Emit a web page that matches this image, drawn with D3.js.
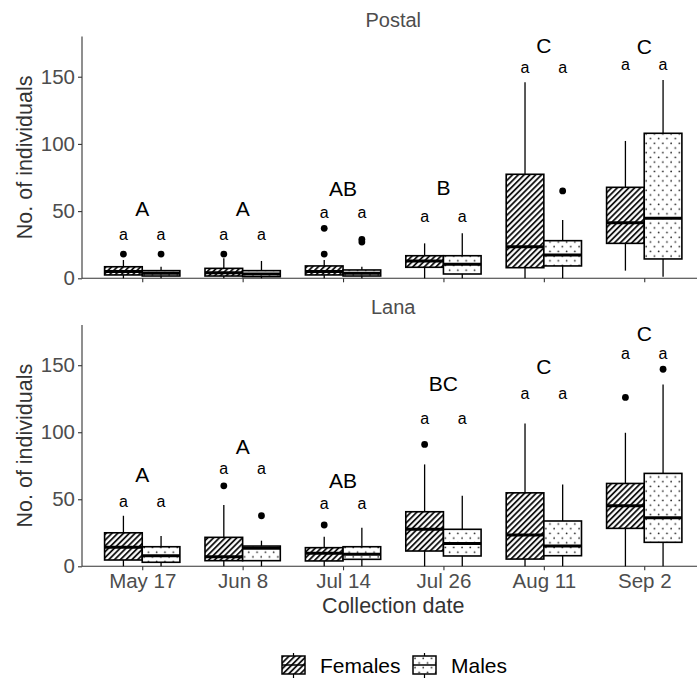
<!DOCTYPE html>
<html>
<head>
<meta charset="utf-8">
<script src="https://cdn.jsdelivr.net/npm/d3@7"></script>
<style>
  body{margin:0;background:#fff;}
  svg{display:block;font-family:"Liberation Sans",Arial,sans-serif;}
</style>
</head>
<body>
<svg id="chart" width="697" height="681"></svg>
<script>
// collection dates (x categories)
const dates=["May 17","Jun 8","Jul 14","Jul 26","Aug 11","Sep 2"];
const sites=["Postal","Lana"];
const sexes=["Females","Males"];

// five-number summaries per date: [lower whisker, q1, median, q3, upper whisker]
const postalFemales=[[0,2.5,5,8.6,13.6],[0,1.7,4.2,7.4,15],[0,2.5,5,9.2,13.6],[0,8.2,12.9,16.8,26],[0,7.9,23.5,77.4,145.8],[5.7,26,41.4,67.7,102.2]];
const postalMales=[[0,1.7,3.7,5.7,8.6],[0,1.2,3.2,5.7,12.9],[0,1.7,3.7,6.2,8.6],[0,3.2,10.4,16.8,33.5],[0,9.2,17.3,28,43.4],[1.2,14.4,44.6,107.9,147.5]];
const lanaFemales=[[0,4.7,14.2,25,37.7],[0,4.2,7.2,21.6,45.7],[0,4,9.7,13.9,22],[0,11.4,27.6,40.7,76],[0,5.4,23.3,54.8,106.5],[0,28.3,45.2,61.8,99.6]];
const lanaMales=[[0,3,7.9,14.6,22.6],[0,4.2,13.4,15.1,19.1],[0,5.2,8.9,14.6,28.8],[0,7.7,17.1,27.6,52.6],[0,7.9,15.1,33.8,61],[0,17.9,36.2,69.3,135.6]];

// outliers per date
const postalFemaleOutliers=[[18],[18],[18,37.2],[],[],[]];
const postalMaleOutliers=[[18],[],[27,29],[],[65],[]];
const lanaFemaleOutliers=[[],[60],[30.8],[90.9],[],[126]];
const lanaMaleOutliers=[[],[37.7],[],[],[],[147]];

// significance letters: between dates (capitals) and between sexes (lower case)
const postalDateLetters=["A","A","AB","B","C","C"];
const postalDateLetterY=[52.3,52.3,67,67.4,173.6,172.3];
const postalSexLetterY=[32.2,32.2,48.4,45.8,156.3,158.7];
const lanaDateLetters=["A","A","AB","BC","C","C"];
const lanaDateLetterY=[68.6,89.1,64.3,136.4,149.3,173.6];
const lanaSexLetterY=[48.1,72.5,46.4,109.8,128.9,158];

const yTicks=[0,50,100,150];

const panels=[
  {site:"Postal",top:36.4,bottom:278.3,stats:[postalFemales,postalMales],out:[postalFemaleOutliers,postalMaleOutliers],
   letters:postalDateLetters,letterY:postalDateLetterY,sexY:postalSexLetterY,stripY:20},
  {site:"Lana",top:325,bottom:566.3,stats:[lanaFemales,lanaMales],out:[lanaFemaleOutliers,lanaMaleOutliers],
   letters:lanaDateLetters,letterY:lanaDateLetterY,sexY:lanaSexLetterY,stripY:307}
];

const svg=d3.select("#chart");
const left=82, unit=100.4;
const x=d3.scalePoint().domain(dates).range([left+0.6*unit,left+5.6*unit]);
const xSex=d3.scaleBand().domain(sexes).range([-0.375*unit,0.375*unit]);
const bw=xSex.bandwidth();
const panelRight=left+6.2*unit;

// fill patterns
const defs=svg.append("defs");
const stripe=defs.append("pattern").attr("id","pat-Females")
  .attr("patternUnits","userSpaceOnUse").attr("width",4.1).attr("height",10)
  .attr("patternTransform","rotate(45)");
stripe.append("rect").attr("width",4.1).attr("height",10).attr("fill","#fff");
stripe.append("line").attr("x1",1).attr("x2",1).attr("y1",0).attr("y2",10)
  .attr("stroke","#000").attr("stroke-width",1.7);
const dots=defs.append("pattern").attr("id","pat-Males")
  .attr("patternUnits","userSpaceOnUse").attr("width",8.3).attr("height",9.4);
dots.append("rect").attr("width",8.3).attr("height",9.4).attr("fill","#fff");
[[2,2.3],[6.15,7]].forEach(([cx,cy])=>{
  dots.append("circle").attr("cx",cx).attr("cy",cy).attr("r",0.85).attr("fill","#222");
});

panels.forEach((p)=>{
  const y=d3.scaleLinear().domain([0,180]).range([p.bottom,p.top]);
  const g=svg.append("g");

  // strip label
  g.append("text").attr("x",(left+panelRight)/2).attr("y",p.stripY)
    .attr("text-anchor","middle").attr("dominant-baseline","central")
    .attr("font-size",20).attr("fill","#4d4d4d").text(p.site);

  // y axis
  const ya=g.append("g").attr("transform",`translate(${left},0)`)
    .call(d3.axisLeft(y).tickValues(yTicks).tickSize(4).tickPadding(3));
  ya.select(".domain").attr("stroke","#333").attr("stroke-width",1.1).attr("d",`M0,${p.bottom}V${p.top}`);
  ya.selectAll(".tick line").attr("stroke","#333").attr("stroke-width",1.1);
  ya.selectAll(".tick text").attr("font-size",20.5).attr("fill","#4d4d4d")
    .attr("font-family","'Liberation Sans',Arial,sans-serif");

  // x axis
  const xa=g.append("g").attr("transform",`translate(0,${p.bottom})`)
    .call(d3.axisBottom(x).tickSize(4).tickPadding(3));
  xa.select(".domain").attr("stroke","#333").attr("stroke-width",1.1).attr("d",`M${left},0H${panelRight}`);
  xa.selectAll(".tick line").attr("stroke","#333").attr("stroke-width",1.1);
  if(p.site==="Postal") xa.selectAll(".tick text").remove();
  else xa.selectAll(".tick text").attr("font-size",20.5).attr("fill","#4d4d4d")
    .attr("font-family","'Liberation Sans',Arial,sans-serif");

  // y title
  g.append("text").attr("transform",`translate(25,${(p.top+p.bottom)/2}) rotate(-90)`)
    .attr("text-anchor","middle").attr("dominant-baseline","central")
    .attr("font-size",21.5).attr("fill","#333").text("No. of individuals");

  // boxes
  sexes.forEach((sex,si)=>{
    const rows=dates.map((d,i)=>({date:d,s:p.stats[si][i],out:p.out[si][i]}));
    const bg=g.append("g").selectAll("g").data(rows).enter().append("g")
      .attr("transform",(r)=>`translate(${x(r.date)+xSex(sex)},0)`);
    bg.append("line").attr("x1",bw/2).attr("x2",bw/2)
      .attr("y1",(r)=>y(r.s[0])).attr("y2",(r)=>y(r.s[1]))
      .attr("stroke","#000").attr("stroke-width",1.3);
    bg.append("line").attr("x1",bw/2).attr("x2",bw/2)
      .attr("y1",(r)=>y(r.s[3])).attr("y2",(r)=>y(r.s[4]))
      .attr("stroke","#000").attr("stroke-width",1.3);
    bg.append("rect").attr("x",0).attr("width",bw)
      .attr("y",(r)=>y(r.s[3])).attr("height",(r)=>y(r.s[1])-y(r.s[3]))
      .attr("fill",`url(#pat-${sex})`).attr("stroke","#000").attr("stroke-width",1.6);
    bg.append("line").attr("x1",0).attr("x2",bw)
      .attr("y1",(r)=>y(r.s[2])).attr("y2",(r)=>y(r.s[2]))
      .attr("stroke","#000").attr("stroke-width",3);
    bg.selectAll("circle").data((r)=>r.out).enter().append("circle")
      .attr("cx",bw/2).attr("cy",(v)=>y(v)).attr("r",3.4).attr("fill","#000");
    // sex letters
    g.append("g").selectAll("text").data(dates).enter().append("text")
      .attr("x",(d)=>x(d)+xSex(sex)+bw/2).attr("y",(d,i)=>y(p.sexY[i])+5)
      .attr("text-anchor","middle").attr("font-size",16).attr("fill","#000").text("a");
  });

  // date letters
  g.append("g").selectAll("text").data(dates).enter().append("text")
    .attr("x",(d)=>x(d)).attr("y",(d,i)=>y(p.letterY[i])+7.5)
    .attr("text-anchor","middle").attr("font-size",21).attr("fill","#000")
    .text((d,i)=>p.letters[i]);
});

// x title
svg.append("text").attr("x",(left+panelRight)/2).attr("y",606)
  .attr("text-anchor","middle").attr("dominant-baseline","central")
  .attr("font-size",21.5).attr("fill","#333").text("Collection date");

// legend
const legendX=[282,413];
const lg=svg.append("g").selectAll("g").data(sexes).enter().append("g")
  .attr("transform",(d,i)=>`translate(${legendX[i]},656)`);
lg.append("line").attr("x1",11.5).attr("x2",11.5).attr("y1",-3).attr("y2",22)
  .attr("stroke","#000").attr("stroke-width",1.2);
lg.append("rect").attr("width",23).attr("height",18)
  .attr("fill",(d)=>`url(#pat-${d})`).attr("stroke","#000").attr("stroke-width",1.5);
lg.append("line").attr("x1",0).attr("x2",23).attr("y1",9).attr("y2",9)
  .attr("stroke","#000").attr("stroke-width",1.5);
lg.append("text").attr("x",38).attr("y",9).attr("dominant-baseline","central")
  .attr("font-size",21).attr("fill","#000").text((d)=>d);
</script>
</body>
</html>
